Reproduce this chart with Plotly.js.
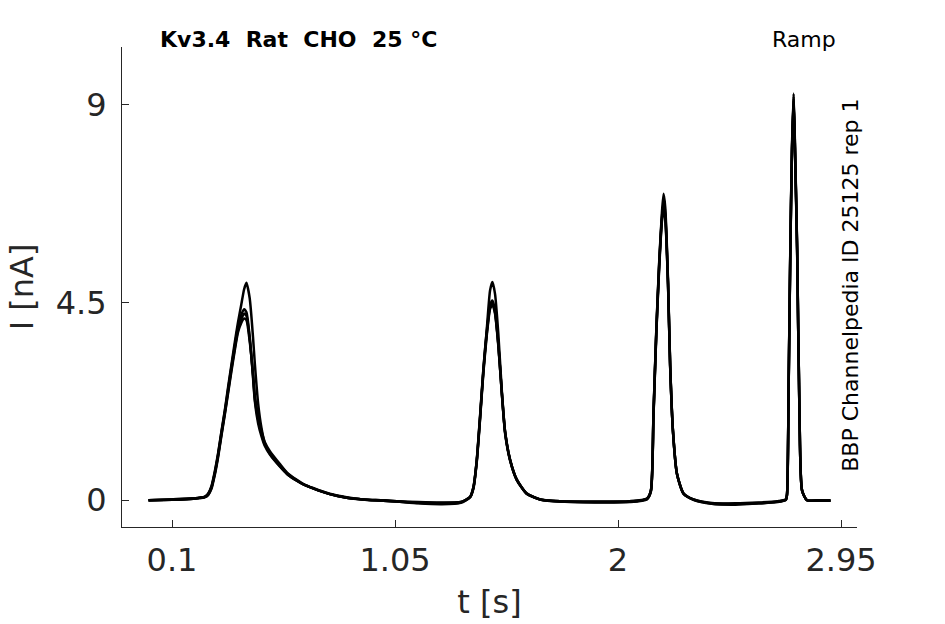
<!DOCTYPE html>
<html>
<head>
<meta charset="utf-8">
<script src="https://cdn.plot.ly/plotly-3.0.1.min.js"></script>
<style>
  body { margin: 0; background: #fff; }
  #chart { width: 945px; height: 624px; }
</style>
</head>
<body>
<div id="chart"></div>
<script>
// time axis shared by all sweeps (s)
const timeS = [
  0.000, 0.100, 0.180, 0.218, 0.239, 0.254, 0.268, 0.282, 0.296, 0.310, 0.325, 0.339, 0.353, 0.367, 0.381, 0.395, 0.407, 0.417, 0.431, 0.445, 0.453, 0.467, 0.481, 0.495, 0.517, 0.559, 0.590, 0.630, 0.660, 0.701, 0.772, 0.844, 0.914, 1.000, 1.057, 1.150, 1.250, 1.330,
  1.370, 1.384, 1.398, 1.412, 1.426, 1.441, 1.455, 1.465, 1.476, 1.490, 1.505, 1.519, 1.540, 1.569, 1.611, 1.668, 1.750, 1.900, 2.050, 2.123,
  2.140, 2.151, 2.163, 2.175, 2.187, 2.194, 2.201, 2.213, 2.222, 2.234, 2.251, 2.279, 2.322, 2.400, 2.500, 2.600, 2.680, 2.715,
  2.720, 2.727, 2.734, 2.741, 2.748, 2.754, 2.763, 2.773, 2.784, 2.805, 2.850, 2.905
];

// current of each sweep (nA)
const sweep1 = [
  0.00, 0.02, 0.04, 0.06, 0.08, 0.15, 0.32, 0.65, 1.06, 1.55, 2.05, 2.58, 3.08, 3.58, 4.05, 4.45, 4.80, 4.95, 4.60, 3.72, 3.10, 2.20, 1.65, 1.30, 1.06, 0.78, 0.60, 0.45, 0.36, 0.27, 0.14, 0.06, 0.02, 0.00, -0.02, -0.04, -0.05, -0.04,
  0.08, 0.30, 0.91, 1.90, 2.96, 3.90, 4.78, 4.97, 4.70, 3.80, 2.50, 1.56, 0.93, 0.47, 0.15, 0.02, -0.02, -0.03, -0.02, 0.04,
  0.23, 1.97, 3.87, 5.39, 6.55, 6.98, 6.68, 5.01, 3.11, 1.59, 0.61, 0.15, 0.02, -0.06, -0.07, -0.05, -0.02, 0.02,
  0.15, 2.73, 5.77, 8.04, 9.26, 8.04, 5.77, 1.97, 0.23, 0.00, 0.00, 0.00
];
const sweep2 = [
  0.00, 0.02, 0.04, 0.06, 0.08, 0.15, 0.30, 0.62, 1.03, 1.52, 2.02, 2.53, 3.03, 3.50, 3.95, 4.22, 4.35, 4.28, 3.72, 2.80, 2.25, 1.75, 1.46, 1.24, 1.04, 0.77, 0.60, 0.45, 0.36, 0.27, 0.14, 0.06, 0.02, 0.00, -0.02, -0.05, -0.06, -0.04,
  0.08, 0.30, 0.90, 1.88, 2.94, 3.85, 4.45, 4.55, 4.33, 3.57, 2.43, 1.52, 0.91, 0.46, 0.15, 0.02, -0.02, -0.04, -0.03, 0.03,
  0.22, 1.95, 3.85, 5.35, 6.45, 6.80, 6.55, 4.95, 3.08, 1.57, 0.60, 0.15, 0.02, -0.07, -0.08, -0.06, -0.03, 0.02,
  0.14, 2.70, 5.72, 7.98, 9.20, 7.98, 5.72, 1.95, 0.22, 0.00, 0.00, -0.01
];
const sweep3 = [
  0.00, 0.01, 0.03, 0.05, 0.07, 0.13, 0.28, 0.60, 1.00, 1.48, 1.98, 2.48, 2.98, 3.45, 3.88, 4.12, 4.25, 4.20, 3.68, 2.85, 2.30, 1.84, 1.52, 1.28, 1.07, 0.80, 0.62, 0.46, 0.36, 0.27, 0.14, 0.06, 0.02, -0.01, -0.03, -0.06, -0.08, -0.05,
  0.07, 0.28, 0.88, 1.85, 2.90, 3.80, 4.40, 4.50, 4.28, 3.55, 2.45, 1.55, 0.92, 0.46, 0.15, 0.02, -0.03, -0.04, -0.03, 0.03,
  0.21, 1.92, 3.80, 5.30, 6.40, 6.70, 6.48, 4.92, 3.06, 1.57, 0.60, 0.15, 0.01, -0.08, -0.09, -0.07, -0.03, 0.01,
  0.14, 2.68, 5.70, 7.95, 9.15, 7.95, 5.70, 1.95, 0.22, 0.00, -0.01, -0.01
];
const sweep4 = [
  0.00, 0.01, 0.03, 0.05, 0.07, 0.12, 0.26, 0.57, 0.97, 1.45, 1.95, 2.44, 2.93, 3.40, 3.82, 4.04, 4.14, 4.10, 3.62, 2.90, 2.38, 1.92, 1.58, 1.33, 1.12, 0.83, 0.63, 0.47, 0.37, 0.28, 0.15, 0.07, 0.02, -0.01, -0.03, -0.07, -0.09, -0.06,
  0.07, 0.27, 0.86, 1.82, 2.88, 3.76, 4.36, 4.46, 4.25, 3.52, 2.45, 1.56, 0.93, 0.47, 0.16, 0.02, -0.03, -0.05, -0.04, 0.02,
  0.20, 1.90, 3.78, 5.25, 6.35, 6.62, 6.42, 4.90, 3.05, 1.58, 0.61, 0.16, 0.01, -0.08, -0.10, -0.07, -0.04, 0.01,
  0.13, 2.65, 5.65, 7.90, 9.10, 7.90, 5.65, 1.95, 0.22, 0.00, -0.01, -0.01
];

const xTicks = [0.1, 1.05, 2, 2.95];
const yTicks = [0, 4.5, 9];

const sweeps = [sweep1, sweep2, sweep3, sweep4];
const traces = sweeps.map(s => ({
  x: timeS,
  y: s,
  type: 'scatter',
  mode: 'lines',
  line: { color: '#000', width: 2.5, shape: 'spline', smoothing: 0.6 },
  hoverinfo: 'skip'
}));

const axisGray = '#262626';
const layout = {
  width: 945,
  height: 624,
  margin: { l: 122, r: 88, t: 47, b: 97 },
  paper_bgcolor: '#fff',
  plot_bgcolor: '#fff',
  showlegend: false,
  font: { family: 'DejaVu Sans', color: axisGray },
  xaxis: {
    range: [-0.113, 3.018],
    tickvals: xTicks,
    ticktext: xTicks.map(String),
    ticks: 'inside',
    ticklen: 7,
    tickcolor: axisGray,
    tickfont: { size: 32, color: axisGray },
    ticklabelstandoff: 5,
    showline: true,
    linecolor: axisGray,
    linewidth: 1,
    showgrid: false,
    zeroline: false,
    title: { text: 't [s]', font: { size: 32, color: axisGray }, standoff: 12 }
  },
  yaxis: {
    range: [-0.608, 10.32],
    tickvals: yTicks,
    ticktext: yTicks.map(String),
    ticks: 'inside',
    ticklen: 7,
    tickcolor: axisGray,
    tickfont: { size: 32, color: axisGray },
    ticklabelstandoff: 8,
    showline: true,
    linecolor: axisGray,
    linewidth: 1,
    showgrid: false,
    zeroline: false,
    title: { text: 'I [nA]', font: { size: 32, color: axisGray }, standoff: 12 }
  },
  annotations: [
    {
      text: '<b>Kv3.4\u00a0 Rat\u00a0 CHO\u00a0 25 °C</b>',
      xref: 'paper', yref: 'paper', x: 0.049, y: 1.0146,
      xanchor: 'left', yanchor: 'middle', showarrow: false,
      font: { size: 22, color: '#000' }
    },
    {
      text: 'Ramp',
      xref: 'paper', yref: 'paper', x: 0.974, y: 1.0146,
      xanchor: 'right', yanchor: 'middle', showarrow: false,
      font: { size: 22, color: '#000' }
    },
    {
      text: 'BBP Channelpedia ID 25125 rep 1',
      xref: 'paper', yref: 'paper', x: 0.990, y: 0.504,
      xanchor: 'center', yanchor: 'middle', showarrow: false, textangle: -90,
      font: { size: 22, color: '#000' }
    }
  ]
};

Plotly.newPlot('chart', traces, layout, { staticPlot: true, displayModeBar: false });
</script>
</body>
</html>
